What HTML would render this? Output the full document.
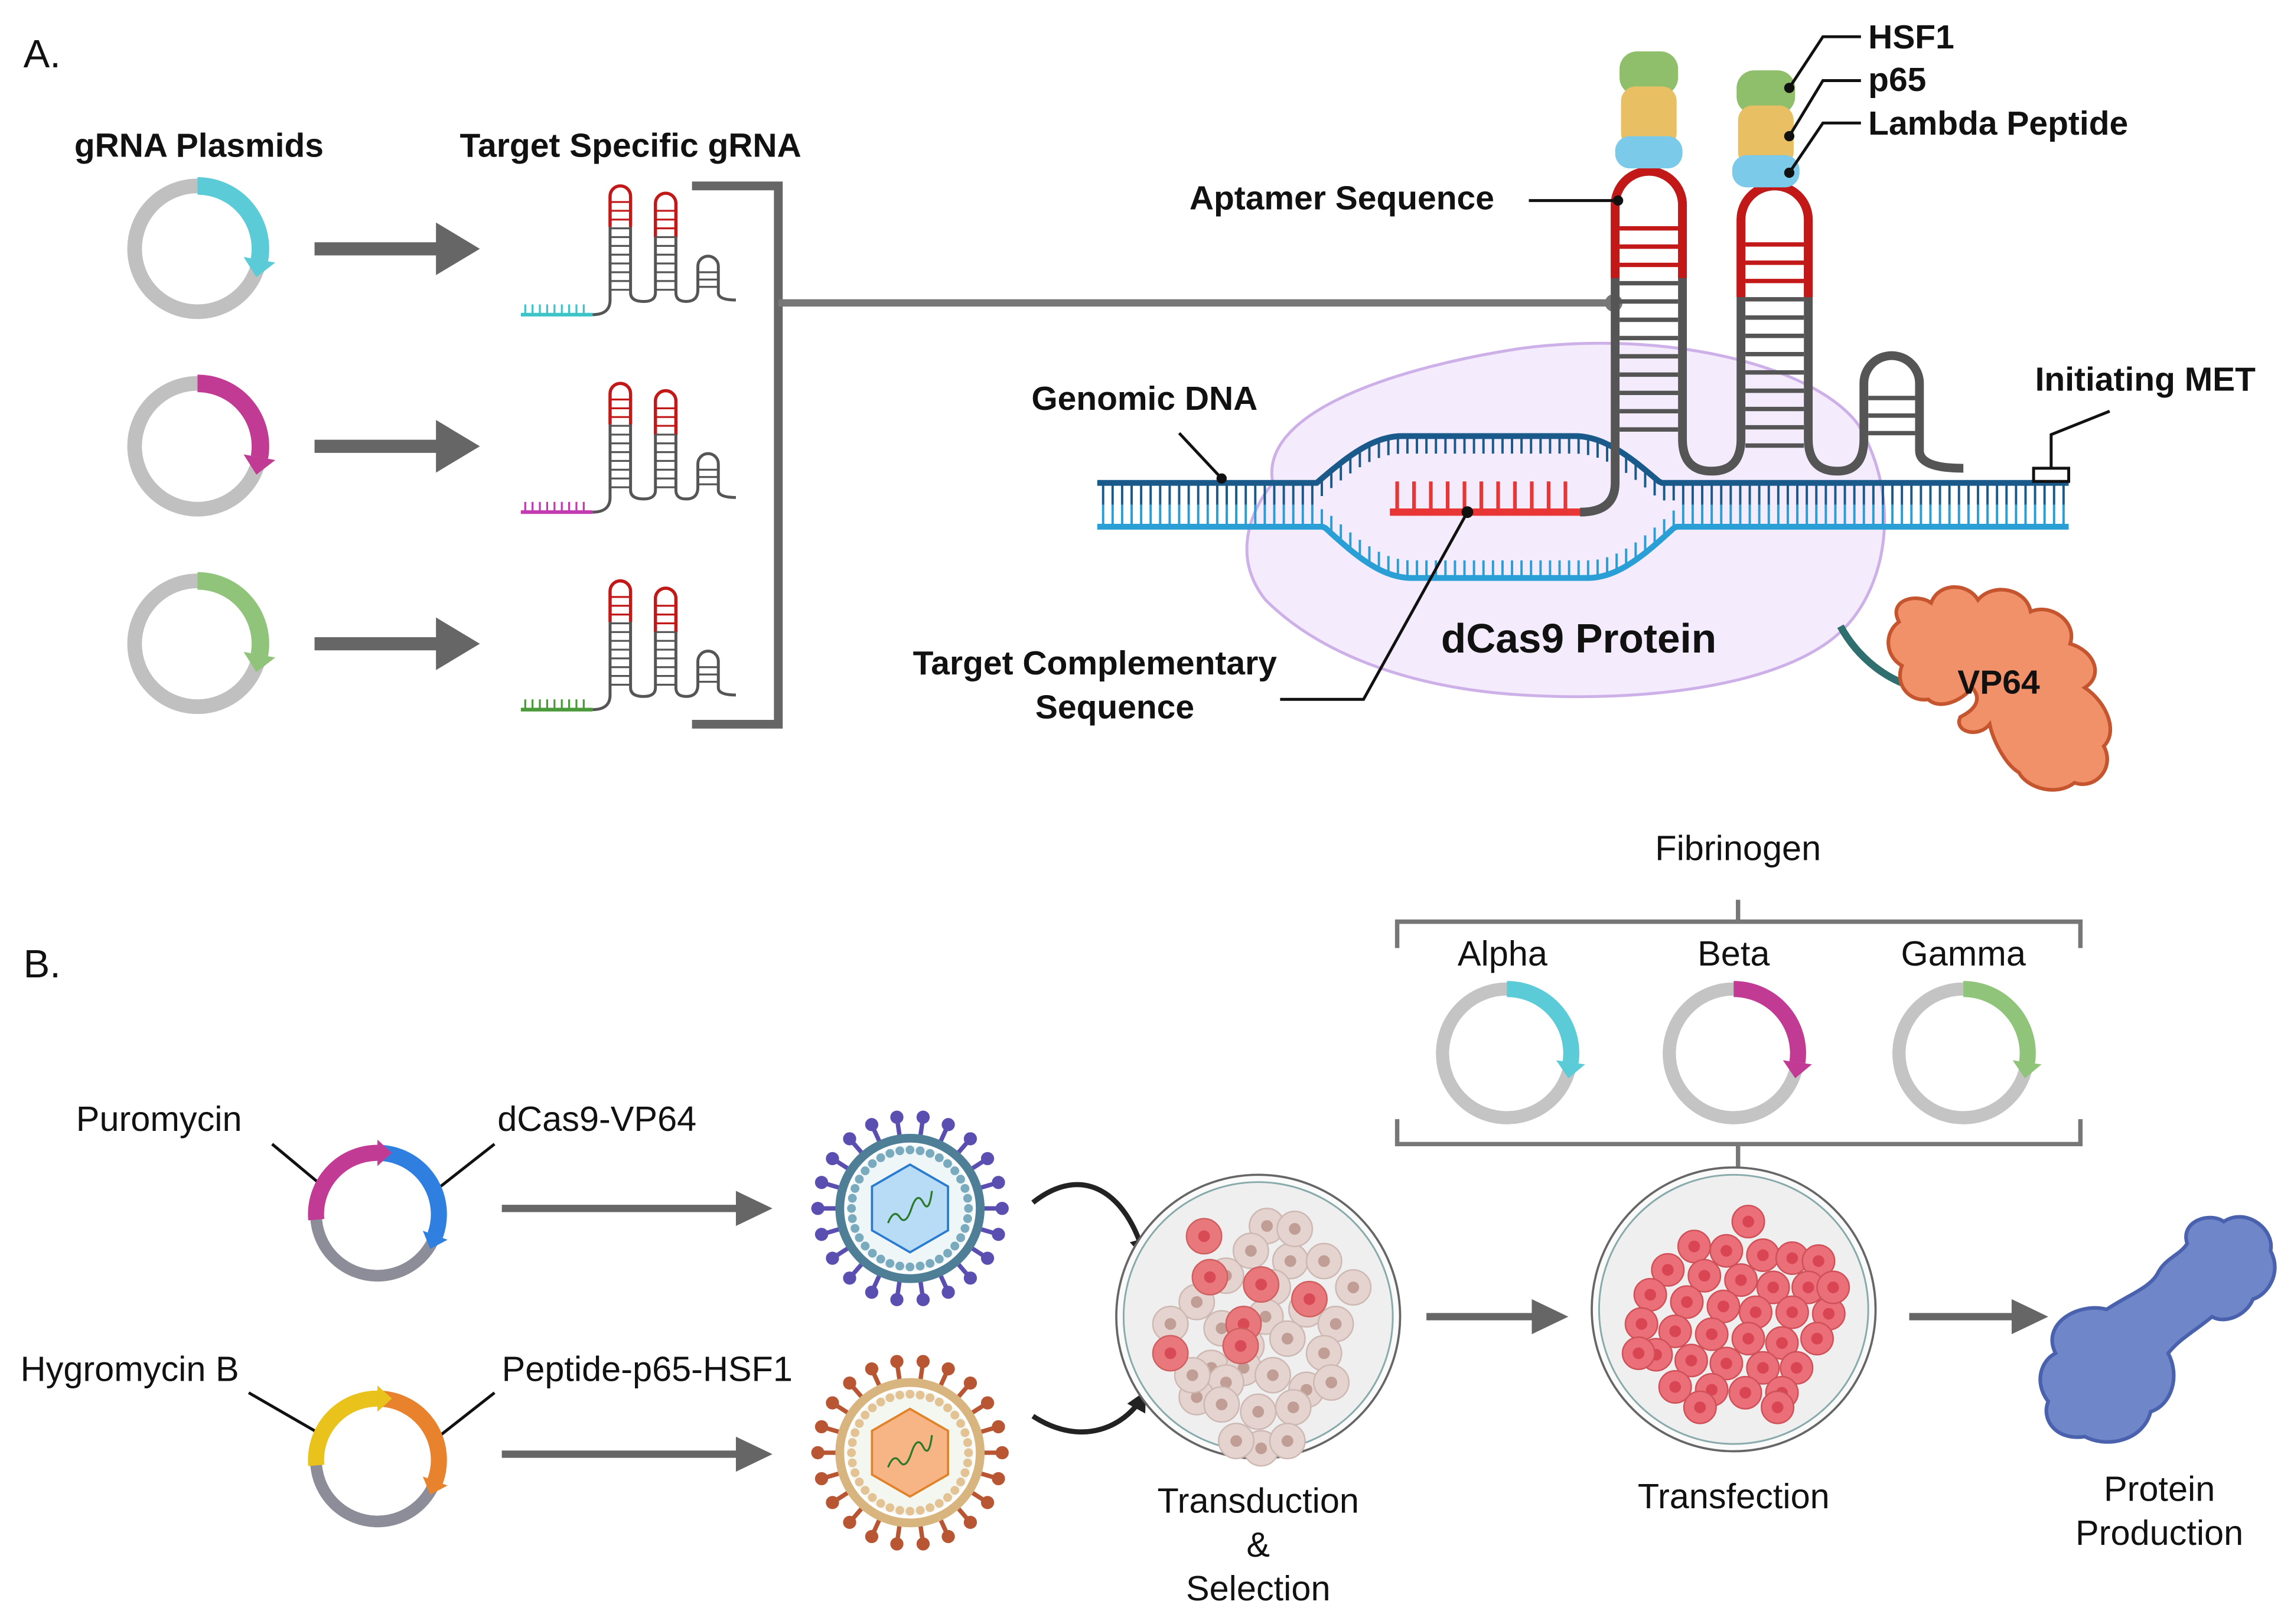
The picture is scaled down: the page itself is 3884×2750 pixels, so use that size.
<!DOCTYPE html>
<html><head><meta charset="utf-8"><style>
html,body{margin:0;padding:0;background:#fff;}
svg{display:block;}
text{font-family:"Liberation Sans",Arial,sans-serif;}
.b{font-weight:bold;font-size:23px;fill:#111;}
.r{font-size:24px;fill:#111;}
</style></head><body>
<svg id="s" width="3884" height="2750" viewBox="0 0 1568 1110" xmlns="http://www.w3.org/2000/svg">
<defs>
<marker id="ah" viewBox="0 0 10 10" refX="8" refY="5" markerWidth="4" markerHeight="4" orient="auto"><path d="M0,0L10,5L0,10z" fill="#222"/></marker>
</defs>
<rect width="1568" height="1110" fill="#fff"/>
<text x="16" y="46" class="r" style="font-size:27px">A.</text>
<text x="16" y="668" class="r" style="font-size:27px">B.</text>
<text x="136" y="107" class="b" text-anchor="middle">gRNA Plasmids</text>
<text x="431" y="107" class="b" text-anchor="middle">Target Specific gRNA</text>

<path d="M473,127H532V495H473" fill="none" stroke="#666" stroke-width="6"/>
<line x1="532" y1="207" x2="1102" y2="207" stroke="#777" stroke-width="5"/>
<circle cx="1103" cy="207" r="6" fill="#777"/>

<path d="M870,330C860,280 960,250 1040,238C1140,225 1240,250 1270,290C1300,340 1290,400 1260,430C1220,470 1120,480 1040,475C960,470 900,445 865,410C845,385 850,355 870,330Z" fill="#f4ecfc" stroke="#cdb0e8" stroke-width="2"/>
<g id="dna"></g>
<g id="grna"></g>
<text x="985" y="446" class="b" style="font-size:28px">dCas9 Protein</text>
<text x="705" y="280" class="b">Genomic DNA</text>
<path d="M806,296L835,327" stroke="#111" stroke-width="2"/><circle cx="835" cy="327" r="3.5" fill="#111"/>
<text x="813" y="143" class="b">Aptamer Sequence</text>
<path d="M1045,137H1105" stroke="#111" stroke-width="2"/><circle cx="1106" cy="137" r="3.5" fill="#111"/>
<text x="624" y="461" class="b">Target Complementary</text>
<text x="762" y="491" class="b" text-anchor="middle">Sequence</text>
<path d="M875,478H932L1003,350" fill="none" stroke="#111" stroke-width="2"/><circle cx="1003" cy="350" r="4" fill="#111"/>
<text x="1391" y="267" class="b">Initiating MET</text>
<path d="M1442,281L1402,297V320" fill="none" stroke="#111" stroke-width="2"/>
<rect x="1390" y="320" width="24" height="9" fill="#fff" stroke="#111" stroke-width="2"/>
<g id="act"></g>
<text x="1277" y="33" class="b">HSF1</text>
<text x="1277" y="62" class="b">p65</text>
<text x="1277" y="92" class="b">Lambda Peptide</text>
<path d="M1272,25H1246L1223,60M1272,55H1246L1223,93M1272,84H1246L1223,118" fill="none" stroke="#111" stroke-width="2"/>
<circle cx="1223" cy="60" r="3.5" fill="#111"/><circle cx="1223" cy="93" r="3.5" fill="#111"/><circle cx="1223" cy="118" r="3.5" fill="#111"/>
<path d="M1258,428C1270,450 1290,465 1310,470" fill="none" stroke="#2f6f6f" stroke-width="5"/>
<path d="M1298,425C1290,410 1310,405 1320,412C1325,398 1345,398 1352,410C1362,398 1385,402 1388,418C1402,412 1420,425 1415,440C1432,445 1438,462 1425,470C1440,480 1448,500 1438,510C1446,525 1432,540 1418,535C1405,545 1385,538 1380,528C1370,522 1362,505 1360,495C1352,505 1335,500 1340,490C1350,485 1355,478 1348,470C1340,480 1325,485 1318,478C1305,480 1295,468 1300,455C1288,448 1288,432 1298,425Z" fill="#f0916a" stroke="#c4552f" stroke-width="2.5"/>
<text x="1338" y="474" class="b">VP64</text>

<text x="1188" y="588" class="r" text-anchor="middle">Fibrinogen</text>
<path d="M955,648V630H1422V648M1188,615V630M955,765V782H1422V765M1188,782V805" fill="none" stroke="#777" stroke-width="3"/>
<text x="1027" y="660" class="r" text-anchor="middle">Alpha</text>
<text x="1185" y="660" class="r" text-anchor="middle">Beta</text>
<text x="1342" y="660" class="r" text-anchor="middle">Gamma</text>
<text x="52" y="773" class="r">Puromycin</text>
<text x="340" y="773" class="r">dCas9-VP64</text>
<text x="14" y="944" class="r">Hygromycin B</text>
<text x="343" y="944" class="r">Peptide-p65-HSF1</text>
<path d="M186,782L222,812M338,782L296,815M170,952L222,982M338,952L296,985" stroke="#111" stroke-width="2" fill="none"/>
<g id="plas"></g>
<g id="vir"></g>
<path d="M706,822C740,795 770,815 782,858" fill="none" stroke="#222" stroke-width="3.5" marker-end="url(#ah)"/>
<path d="M706,968C740,990 770,975 782,953" fill="none" stroke="#222" stroke-width="3.5" marker-end="url(#ah)"/>
<g id="dish"></g>
<text x="860" y="1034" class="r" text-anchor="middle">Transduction</text>
<text x="860" y="1064" class="r" text-anchor="middle">&amp;</text>
<text x="860" y="1094" class="r" text-anchor="middle">Selection</text>
<text x="1185" y="1031" class="r" text-anchor="middle">Transfection</text>
<text x="1476" y="1026" class="r" text-anchor="middle">Protein</text>
<text x="1476" y="1056" class="r" text-anchor="middle">Production</text>
<path d="M1405,925C1395,905 1420,890 1440,895C1455,885 1470,880 1475,870C1480,860 1490,858 1495,850C1490,835 1510,828 1520,835C1535,825 1555,840 1552,855C1560,870 1550,885 1540,888C1535,900 1520,905 1512,900C1500,910 1490,915 1482,925C1490,940 1485,960 1470,965C1465,985 1440,990 1425,982C1405,985 1395,970 1400,958C1390,945 1395,930 1405,925Z" fill="#6f86c9" stroke="#4a62ad" stroke-width="2.5"/>
</svg>
<script>
const NS="http://www.w3.org/2000/svg";
function el(p,t,a){const e=document.createElementNS(NS,t);for(const k in a)e.setAttribute(k,a[k]);document.getElementById(p).appendChild(e);return e;}
function arcPath(cx,cy,r,a0,a1){const p=a=>[cx+r*Math.sin(a*Math.PI/180),cy-r*Math.cos(a*Math.PI/180)];const s=p(a0),e=p(a1);return `M${s[0]},${s[1]}A${r},${r} 0 ${a1-a0>180?1:0} 1 ${e[0]},${e[1]}`;}
function arrowHead(g,cx,cy,r,a,col,w){const rad=a*Math.PI/180;const px=cx+r*Math.sin(rad),py=cy-r*Math.cos(rad);const tx=Math.cos(rad),ty=Math.sin(rad);const nx=Math.sin(rad),ny=-Math.cos(rad);
 el(g,'path',{d:`M${px+nx*w},${py+ny*w}L${px-nx*w},${py-ny*w}L${px+tx*w*1.1},${py+ty*w*1.1}Z`,fill:col});}
[[170,'#5bcbd8'],[305,'#c13b95'],[440,'#90c47a']].forEach(([y,c])=>{
 el('plas','circle',{cx:135,cy:y,r:43,fill:'none',stroke:'#c0c0c0','stroke-width':10});
 el('plas','path',{d:arcPath(135,y,43,0,100),fill:'none',stroke:c,'stroke-width':12});
 arrowHead('plas',135,y,43,100,c,11);
 el('plas','path',{d:`M215,${y}H300`,stroke:'#666','stroke-width':9});
 el('plas','path',{d:`M298,${y-18}L328,${y}L298,${y+18}Z`,fill:'#666'});
 const oy=y-170, cc=['#3cc4c8','#c23ab0','#4a9a3a'][[170,305,440].indexOf(y)];
 el('plas','path',{d:`M356,${215+oy}H405`,stroke:cc,'stroke-width':2.5});
 for(let x=359;x<404;x+=5)el('plas','path',{d:`M${x},${215+oy}V${208+oy}`,stroke:cc,'stroke-width':1.3});
 el('plas','path',{d:`M405,${215+oy}Q417,${215+oy} 417,${205+oy}V${134+oy}A7,7 0 0 1 431,${134+oy}V${200+oy}Q431,${206+oy} 440,${206+oy}Q448,${206+oy} 448,${200+oy}V${139+oy}A7,7 0 0 1 462,${139+oy}V${200+oy}Q462,${206+oy} 469,${206+oy}Q477,${206+oy} 477,${198+oy}V${182+oy}A7,7 0 0 1 491,${182+oy}V${200+oy}Q491,${205+oy} 503,${205+oy}`,fill:'none',stroke:'#555','stroke-width':2});
 el('plas','path',{d:`M417,${155+oy}V${134+oy}A7,7 0 0 1 431,${134+oy}V${155+oy}M448,${162+oy}V${139+oy}A7,7 0 0 1 462,${139+oy}V${162+oy}`,fill:'none',stroke:'#c21818','stroke-width':2.2});
 for(let yy=138;yy<200;yy+=6)el('plas','path',{d:`M417,${yy+oy}H431`,stroke:yy<155?'#c21818':'#555','stroke-width':1.3});
 for(let yy=144;yy<200;yy+=6)el('plas','path',{d:`M448,${yy+oy}H462`,stroke:yy<162?'#c21818':'#555','stroke-width':1.3});
 for(let yy=186;yy<200;yy+=5)el('plas','path',{d:`M477,${yy+oy}H491`,stroke:'#555','stroke-width':1.3});
});
function topY(x){if(x<900||x>1135)return 330;const t=(x-900)/235;return 330-32*(t<.25?Math.sin(t/.25*Math.PI/2):t>.75?Math.sin((1-t)/.25*Math.PI/2):1);}
function botY(x){if(x<905||x>1145)return 360;const t=(x-905)/240;return 360+35*(t<.25?Math.sin(t/.25*Math.PI/2):t>.75?Math.sin((1-t)/.25*Math.PI/2):1);}
let dt='',db='';for(let x=750;x<=1415;x+=2){dt+=(x==750?'M':'L')+x+','+topY(x);db+=(x==750?'M':'L')+x+','+botY(x);}
for(let x=754;x<1413;x+=6.5){const a=topY(x),b=botY(x);
 if(a==330&&b==360){el('dna','path',{d:`M${x},331V345`,stroke:'#1a5a8a','stroke-width':1.6});el('dna','path',{d:`M${x},345V359`,stroke:'#2a9fd6','stroke-width':1.6});}
 else{el('dna','path',{d:`M${x},${a}V${a+12}`,stroke:'#1a5a8a','stroke-width':1.6});el('dna','path',{d:`M${x},${b}V${b-12}`,stroke:'#2a9fd6','stroke-width':1.6});}}
el('dna','path',{d:dt,fill:'none',stroke:'#1a5a8a','stroke-width':4});
el('dna','path',{d:db,fill:'none',stroke:'#2a9fd6','stroke-width':4});
el('dna','path',{d:'M950,350H1082',stroke:'#e83535','stroke-width':5});
for(let x=955;x<1080;x+=11.5)el('dna','path',{d:`M${x},350V329`,stroke:'#e83535','stroke-width':2.5});
const G='grna';
el(G,'path',{d:'M1080,350Q1104,350 1104,330V140A23,23 0 0 1 1150,140V300Q1150,322 1170,322Q1190,322 1190,300V150A23,23 0 0 1 1236,150V300Q1236,322 1256,322Q1274,322 1274,300V262A19,19 0 0 1 1312,262V308Q1312,320 1342,320',fill:'none',stroke:'#555','stroke-width':6});
el(G,'path',{d:'M1104,190V140A23,23 0 0 1 1150,140V190M1190,203V150A23,23 0 0 1 1236,150V203',fill:'none',stroke:'#c21818','stroke-width':6});
for(let y=156;y<305;y+=12.5)el(G,'path',{d:`M1107,${y}H1147`,stroke:y<190?'#c21818':'#555','stroke-width':3});
for(let y=167;y<305;y+=12.5)el(G,'path',{d:`M1193,${y}H1233`,stroke:y<203?'#c21818':'#555','stroke-width':3});
for(let y=272;y<305;y+=12)el(G,'path',{d:`M1277,${y}H1309`,stroke:'#555','stroke-width':3});
[[1127,35],[1207,48]].forEach(([x,y])=>{
 el('act','rect',{x:x-20,y:y,width:40,height:30,rx:12,fill:'#8fbf6a'});
 el('act','rect',{x:x-19,y:y+24,width:38,height:42,rx:10,fill:'#e8c063'});
 el('act','rect',{x:x-23,y:y+58,width:46,height:22,rx:10,fill:'#7ccaea'});
});
[[830,'#c13b95','#2e7fe0'],[998,'#e9c21c','#e8822c']].forEach(([y,c1,c2])=>{
 el('plas','circle',{cx:258,cy:y,r:42,fill:'none',stroke:'#8d8d9a','stroke-width':8});
 el('plas','path',{d:arcPath(258,y,42,-95,0),fill:'none',stroke:c1,'stroke-width':11});
 el('plas','path',{d:arcPath(258,y,42,2,110),fill:'none',stroke:c2,'stroke-width':11});
 arrowHead('plas',258,y,42,0,c1,9);arrowHead('plas',258,y,42,110,c2,9);
 el('plas','path',{d:`M343,${y-4}H505`,stroke:'#666','stroke-width':5});
 el('plas','path',{d:`M503,${y-16}L528,${y-4}L503,${y+8}Z`,fill:'#666'});
});
[[1030,'#5bcbd8'],[1185,'#c13b95'],[1342,'#90c47a']].forEach(([x,c])=>{
 el('plas','circle',{cx:x,cy:720,r:44,fill:'none',stroke:'#c4c4c4','stroke-width':9});
 el('plas','path',{d:arcPath(x,720,44,0,98),fill:'none',stroke:c,'stroke-width':11});
 arrowHead('plas',x,720,44,98,c,10);
});
[[622,826,'#4e7f97','#5a4fb0','#eef6f7','#b8dcf5','#2a7bcf','#7aaabd'],[622,993,'#d8b47f','#b85533','#f4f7f0','#f7b484','#e0822a','#e3c294']].forEach(([cx,cy,mem,sp,inn,hx,hs,dot])=>{
 for(let i=0;i<22;i++){const a=i/22*Math.PI*2;const x1=cx+48*Math.cos(a),y1=cy+48*Math.sin(a),x2=cx+63*Math.cos(a),y2=cy+63*Math.sin(a);
  el('vir','path',{d:`M${x1},${y1}L${x2},${y2}`,stroke:sp,'stroke-width':3});el('vir','circle',{cx:x2,cy:y2,r:4.5,fill:sp});}
 el('vir','circle',{cx,cy,r:48,fill:'none',stroke:mem,'stroke-width':6});
 el('vir','circle',{cx,cy,r:43,fill:inn});
 for(let i=0;i<36;i++){const a=i/36*Math.PI*2;el('vir','circle',{cx:cx+40*Math.cos(a),cy:cy+40*Math.sin(a),r:3,fill:dot});}
 let h='';for(let i=0;i<6;i++){const a=Math.PI/6+i*Math.PI/3-Math.PI/2;h+=(i?'L':'M')+(cx+30*Math.cos(a+Math.PI/6))+','+(cy+30*Math.sin(a+Math.PI/6));}
 el('vir','path',{d:h+'Z',fill:hx,stroke:hs,'stroke-width':1.5});
 el('vir','path',{d:`M${cx-15},${cy+10}q4,-10 8,-4t8,-6t8,-4t6,-8`,fill:'none',stroke:'#2a7a2a','stroke-width':1.3});
});
function dish(cx,cy){el('dish','circle',{cx,cy,r:97,fill:'#fafafa',stroke:'#666','stroke-width':1.5});el('dish','circle',{cx,cy,r:92,fill:'#efefef',stroke:'#8aa','stroke-width':1.2});}
dish(860,900);dish(1185,895);
const c1=[[866,838],[838,872],[882,862],[905,862],[925,880],[870,880],[818,890],[893,895],[913,905],[800,905],[835,908],[865,900],[905,925],[828,935],[852,920],[880,915],[850,935],[870,940],[893,950],[838,945],[818,955],[860,965],[884,962],[815,940],[862,990],[835,960],[885,840],[855,855],[910,945],[845,985],[880,985]];
c1.forEach(([x,y])=>{el('dish','circle',{cx:x,cy:y,r:12,fill:'#e4d3cf',stroke:'#cdb8b3','stroke-width':1});el('dish','circle',{cx:x,cy:y,r:4,fill:'#c09d95'});});
[[823,845],[862,878],[895,888],[850,905],[827,873],[800,925],[848,920]].forEach(([x,y])=>{el('dish','circle',{cx:x,cy:y,r:12,fill:'#e9787c',stroke:'#d06060','stroke-width':1});el('dish','circle',{cx:x,cy:y,r:4,fill:'#d84a55'});});
const c2=[[1195,835],[1158,852],[1180,855],[1205,858],[1225,860],[1243,862],[1140,868],[1165,872],[1190,875],[1212,880],[1236,880],[1128,885],[1153,890],[1178,893],[1200,897],[1225,897],[1250,898],[1122,905],[1145,910],[1170,912],[1195,915],[1218,918],[1242,915],[1132,926],[1156,930],[1180,932],[1205,935],[1228,935],[1145,948],[1170,950],[1193,952],[1218,952],[1162,962],[1215,962],[1253,880],[1120,925]];
c2.forEach(([x,y])=>{el('dish','circle',{cx:x,cy:y,r:11,fill:'#eb6f78',stroke:'#d05058','stroke-width':1});el('dish','circle',{cx:x,cy:y,r:4,fill:'#d94552'});});
[[975,1050],[1305,1378]].forEach(([a,b])=>{el('dish','path',{d:`M${a},900H${b}`,stroke:'#666','stroke-width':5});el('dish','path',{d:`M${b-3},888L${b+22},900L${b-3},912Z`,fill:'#666'});});
</script>
</body></html>
